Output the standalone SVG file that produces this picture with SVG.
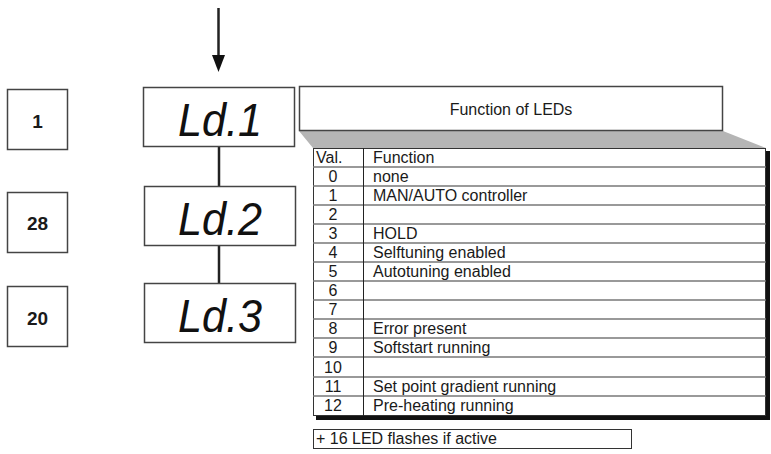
<svg xmlns="http://www.w3.org/2000/svg" width="771" height="454" viewBox="0 0 771 454">
<style>
.box{fill:#fff;stroke:#444;stroke-width:1.5}
.num{font-family:"Liberation Sans",Arial,sans-serif;font-size:19px;font-weight:bold;fill:#1a1a1a;text-anchor:middle}
.led{font-family:"Liberation Sans",Arial,sans-serif;font-size:46px;font-style:italic;fill:#111}
.t{font-family:"Liberation Sans",Arial,sans-serif;font-size:16px;fill:#1a1a1a}
.v{text-anchor:middle}
.row{stroke:#777;stroke-width:1.5}
.conn{stroke:#222;stroke-width:2.5;fill:none}
</style>
<g id="connectors">
<line class="conn" x1="218.5" y1="8" x2="218.5" y2="55"/>
<path d="M212,55 L225,55 L218.5,72 Z" fill="#111"/>
<line class="conn" x1="219" y1="147" x2="219" y2="186"/>
<line class="conn" x1="219" y1="246" x2="219" y2="283"/>
</g>
<g id="n1"><rect class="box" x="7.5" y="89.5" width="60" height="60"/><text class="num" x="37.5" y="128">1</text></g>
<g id="n28"><rect class="box" x="7.5" y="192.5" width="60" height="60"/><text class="num" x="37.5" y="230">28</text></g>
<g id="n20"><rect class="box" x="7.5" y="286.5" width="60" height="60"/><text class="num" x="37.5" y="325">20</text></g>
<g id="ld1"><rect class="box" x="143.5" y="87.5" width="151" height="59"/><text class="led" x="178" y="136" textLength="84" lengthAdjust="spacingAndGlyphs">Ld.1</text></g>
<g id="ld2"><rect class="box" x="144.5" y="186.5" width="151" height="59"/><text class="led" x="178" y="235" textLength="84" lengthAdjust="spacingAndGlyphs">Ld.2</text></g>
<g id="ld3"><rect class="box" x="144.5" y="283.5" width="151" height="59"/><text class="led" x="178" y="332" textLength="84" lengthAdjust="spacingAndGlyphs">Ld.3</text></g>
<g id="title">
<polygon points="299,131 723,131 766,148 313,148" fill="#b5b5b5"/>
<rect class="box" x="299.5" y="86.5" width="423" height="44"/>
<text class="t" x="511" y="115" text-anchor="middle">Function of LEDs</text>
</g>
<g id="table">
<rect x="316" y="151" width="454" height="269" fill="#111"/>
<rect x="313.5" y="148.5" width="452" height="267" fill="#fff" stroke="#333" stroke-width="1"/>
<g>
<line class="row" x1="313" y1="167" x2="766" y2="167"/>
<line class="row" x1="313" y1="186" x2="766" y2="186"/>
<line class="row" x1="313" y1="205" x2="766" y2="205"/>
<line class="row" x1="313" y1="224" x2="766" y2="224"/>
<line class="row" x1="313" y1="243" x2="766" y2="243"/>
<line class="row" x1="313" y1="262" x2="766" y2="262"/>
<line class="row" x1="313" y1="281" x2="766" y2="281"/>
<line class="row" x1="313" y1="300" x2="766" y2="300"/>
<line class="row" x1="313" y1="319" x2="766" y2="319"/>
<line class="row" x1="313" y1="338" x2="766" y2="338"/>
<line class="row" x1="313" y1="357" x2="766" y2="357"/>
<line class="row" x1="313" y1="377" x2="766" y2="377"/>
<line class="row" x1="313" y1="396" x2="766" y2="396"/>
</g>
<line x1="363.5" y1="148" x2="363.5" y2="416" stroke="#222" stroke-width="1"/>
<text class="t" x="316" y="163">Val.</text><text class="t" x="373" y="163">Function</text>
<text class="t v" x="333" y="182">0</text><text class="t" x="373" y="182">none</text>
<text class="t v" x="333" y="201">1</text><text class="t" x="373" y="201">MAN/AUTO controller</text>
<text class="t v" x="333" y="220">2</text>
<text class="t v" x="333" y="239">3</text><text class="t" x="373" y="239">HOLD</text>
<text class="t v" x="333" y="258">4</text><text class="t" x="373" y="258">Selftuning enabled</text>
<text class="t v" x="333" y="277">5</text><text class="t" x="373" y="277">Autotuning enabled</text>
<text class="t v" x="333" y="296">6</text>
<text class="t v" x="333" y="315">7</text>
<text class="t v" x="333" y="334">8</text><text class="t" x="373" y="334">Error present</text>
<text class="t v" x="333" y="353">9</text><text class="t" x="373" y="353">Softstart running</text>
<text class="t v" x="333" y="373">10</text>
<text class="t v" x="333" y="392">11</text><text class="t" x="373" y="392">Set point gradient running</text>
<text class="t v" x="333" y="411">12</text><text class="t" x="373" y="411">Pre-heating running</text>
</g>
<g id="note">
<rect x="313.5" y="429.5" width="318" height="19" fill="#fff" stroke="#333" stroke-width="1"/>
<text class="t" x="316" y="444">+ 16 LED flashes if active</text>
</g>
</svg>
